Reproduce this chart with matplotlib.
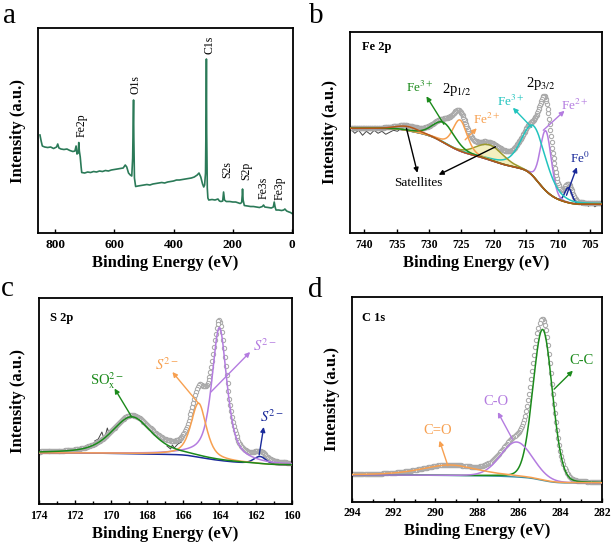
import math
import numpy as np
import matplotlib.pyplot as plt

plt.rcParams['font.family'] = ['Liberation Serif', 'DejaVu Serif']
plt.rcParams['mathtext.fontset'] = 'stix'

# ---------- (a) survey spectrum ----------
survey_be = [851, 847, 843, 835, 825, 815, 805, 795, 791, 787, 780, 770, 760, 750, 740,
             733, 729, 726, 722, 720, 718, 715, 712, 710, 700, 690, 680, 670, 660, 650,
             640, 630, 620, 610, 600, 590, 580, 570, 563, 558, 552, 546, 541, 538, 536,
             535, 534, 532, 528, 520, 510, 500, 490, 480, 470, 460, 450, 440, 430, 420,
             410, 400, 390, 380, 370, 360, 350, 340, 330, 320, 314, 308, 302, 298, 295,
             292, 290, 289, 288, 286, 284, 281, 270, 260, 250, 245, 240, 234, 231, 228,
             222, 210, 200, 190, 180, 175, 170, 168, 167, 165, 161, 150, 140, 130, 120,
             110, 100, 96, 92, 80, 70, 63, 60, 57, 54, 45, 35, 28, 24, 18, 10, 5, 0]
survey_int = [98, 92, 87, 86, 85.5, 86, 84.5, 86, 89, 85, 84, 83.5, 84, 82.5, 81.5,
              82, 87, 79, 80, 90.5, 82, 76, 66, 60.5, 60, 61, 60.5, 61.5, 61, 62,
              61.5, 62.5, 62, 63, 63.5, 64, 64.5, 65, 68, 66, 60, 58, 57, 75, 115,
              133, 95, 55, 46.5, 47, 47.5, 48, 48.5, 48, 49, 49.5, 50, 50.5, 50, 51,
              51.5, 52, 53, 53, 53.5, 54, 54.5, 55, 56, 58, 60, 56, 49, 46, 48,
              60, 120, 174, 100, 45, 35, 33, 33.5, 33, 34, 32, 31.5, 32, 41, 33,
              31.5, 31.5, 31, 31, 30, 29.5, 30.5, 38, 44, 33, 27.5, 27, 26.5, 26.5, 26,
              25.5, 26.5, 28, 26, 25.5, 25, 26, 31, 26, 23, 23, 22.5, 23, 24, 22, 21, 20.5, 19.5]
survey_labels = ['Fe2p', 'O1s', 'C1s', 'S2s', 'S2p', 'Fe3s', 'Fe3p']
survey_label_be = [709, 530, 278, 219, 155, 97, 43]
survey_label_int = [108, 148, 188, 63, 62, 45, 45]

# ---------- (b) Fe 2p fit ----------
fe_center = [733.3, 727.7, 725.2, 720.6, 713.7, 711.9, 708.4]
fe_height = [4, 20, 31, 15, 51, 60, 15]
fe_fwhm = [4.0, 4.0, 2.6, 5.0, 4.5, 2.0, 1.3]
fe_eta = [0.0, 0.2, 0.3, 0.0, 0.35, 0.1, 0.0]
fe_colors = ['#b5561a', '#1b8a1b', '#f7a050', '#9c9a2c', '#22c4be', '#b47ce0', '#1a2a9a']
fe_order = [6, 5, 4, 3, 2, 1, 0]
fe_bg_base = 29
fe_step_center = [708.5, 710.8, 713.2, 720.0, 727.5, 733.0]
fe_step_height = [3, 8, 24, 16, 20, 5]
fe_step_width = [1.0, 1.2, 1.3, 3.0, 2.2, 1.8]
fe_raw_left_be = [742.1, 741.5, 740.9, 740.3, 739.7, 739.1, 738.5, 737.9, 737.3, 736.7,
                  736.1, 735.5, 734.9, 734.3, 733.7]
fe_raw_left_int = [104, 100, 103, 98, 102, 99, 103, 100, 102, 99, 101, 103, 102, 105, 106]
fe_raw_right_be = [706.8, 706.3, 705.8, 705.3, 704.8, 704.3, 703.8, 703.3]
fe_raw_right_int = [32, 28, 30.5, 27, 30, 26.5, 29, 27.5]

# ---------- (c) S 2p fit ----------
s_center = [168.85, 165.15, 164.0, 161.75]
s_height = [37, 54, 133, 7.5]
s_fwhm = [2.6, 1.0, 1.0, 0.8]
s_eta = [0.5, 0.6, 0.7, 0.2]
s_colors = ['#1b8a1b', '#f7a050', '#b47ce0', '#1a2a9a']
s_order = [3, 2, 1, 0]
s_bg_base = 39
s_step_center = [161.7, 164.0, 165.2, 168.9]
s_step_height = [1.5, 6, 3, 1.5]
s_step_width = [0.5, 1.2, 0.6, 1.5]
s_raw_be = [170.9, 170.7, 170.5, 170.4, 170.3, 170.2, 170.1, 170.0, 169.8, 169.6]
s_raw_int = [63, 65, 72, 66, 69, 76, 70, 74, 73, 77]
s_raw2_be = [166.9, 166.7, 166.6, 166.5, 166.3, 166.1]
s_raw2_int = [58, 55, 59, 56, 60, 62]

# ---------- (d) C 1s fit ----------
c_center = [284.85, 286.1, 289.3]
c_height = [151, 35, 10.5]
c_fwhm = [1.1, 1.8, 3.2]
c_eta = [0.1, 0.1, 0.5]
c_colors = ['#1b8a1b', '#b47ce0', '#f7a050']
c_order = [0, 1, 2]
c_bg_base = 18.7
c_step_center = [284.85, 286.1, 289.3]
c_step_height = [5, 2, 1]
c_step_width = [0.5, 0.8, 1.5]

erf = np.vectorize(math.erf)


def pv(x, c, h, w, eta):
    u = (x - c) / w
    return h * (eta / (1 + 4 * u ** 2) + (1 - eta) * np.exp(-4 * np.log(2) * u ** 2))


def fit_panel(ax, lo, hi, dx, base, st_c, st_h, st_w, cen, hei, fw, eta, cols, order,
              bg_color=None, fills=()):
    x = np.arange(lo, hi + dx / 2, dx)
    bg = base + sum(h * 0.5 * (1 + erf((x - c) / (w * np.sqrt(2))))
                    for c, h, w in zip(st_c, st_h, st_w))
    comps = [pv(x, c, h, w, e) for c, h, w, e in zip(cen, hei, fw, eta)]
    env = bg + sum(comps)
    ax.plot(x, env, ls='none', marker='o', ms=3.1, mfc='white', mec='#a8a8a8',
            mew=0.75, zorder=2)
    if bg_color:
        ax.plot(x, bg, color=bg_color, lw=1.0, zorder=3)
    for i in order:
        if i in fills:
            ax.fill_between(x, bg, bg + comps[i], color='#f3efbf', lw=0, zorder=1.5)
        ax.plot(x, bg + comps[i], color=cols[i], lw=1.1, zorder=3)


def style(ax, xlim, ylim, ticks, size):
    ax.set_xlim(*xlim)
    ax.set_ylim(*ylim)
    ax.set_yticks([])
    ax.set_xticks(ticks)
    ax.set_xticklabels([str(t) for t in ticks], fontweight='bold', fontsize=size)
    ax.tick_params(axis='x', direction='in', length=3, width=1, pad=4)
    for sp in ax.spines.values():
        sp.set_linewidth(1.3)
    ax.set_xlabel('Binding Energy (eV)', fontweight='bold', fontsize=12, labelpad=3)
    ax.set_ylabel('Intensity (a.u.)', fontweight='bold', fontsize=12, labelpad=9)


def tag(ax, text, txy, tail, head, color, size):
    ax.annotate('', xy=head, xytext=tail,
                arrowprops=dict(arrowstyle='-|>', color=color, lw=1.0,
                                mutation_scale=7, shrinkA=0, shrinkB=0), zorder=4)
    ax.text(txy[0], txy[1], text, color=color, fontsize=size, ha='center', va='center')


fig = plt.figure(figsize=(6.14, 5.48), dpi=100)
ax_a = fig.add_axes([0.0619, 0.5748, 0.4153, 0.3741])
ax_b = fig.add_axes([0.5705, 0.5743, 0.4099, 0.3679])
ax_c = fig.add_axes([0.0629, 0.0803, 0.4122, 0.3759])
ax_d = fig.add_axes([0.5733, 0.0845, 0.4072, 0.3730])

# (a)
ax_a.plot(survey_be, survey_int, color='#2b7a58', lw=1.2)
for lab, xb, yi in zip(survey_labels, survey_label_be, survey_label_int):
    ax_a.text(xb, yi, lab, rotation=90, ha='center', va='center', fontsize=8.5)
style(ax_a, (857.6, -3.4), (0, 205), [800, 600, 400, 200, 0], 9.5)

# (b)
fit_panel(ax_b, 703.2, 742.2, 0.1, fe_bg_base, fe_step_center, fe_step_height,
          fe_step_width, fe_center, fe_height, fe_fwhm, fe_eta, fe_colors, fe_order,
          bg_color='#c9bb55', fills=(0, 3))
ax_b.plot(fe_raw_left_be, fe_raw_left_int, color='#444444', lw=0.7, zorder=1.8)
ax_b.plot(fe_raw_right_be, fe_raw_right_int, color='#444444', lw=0.7, zorder=1.8)
style(ax_b, (742.2, 703.2), (0, 201.6), [740, 735, 730, 725, 720, 715, 710, 705], 8.5)
ax_b.text(0.046, 0.924, 'Fe 2p', transform=ax_b.transAxes, fontweight='bold',
          fontsize=9, va='center')
tag(ax_b, 'Fe$^{3+}$', (731.4, 145.5), (727.7, 109), (730.4, 137), '#1b8a1b', 9.5)
ax_b.text(725.7, 143.5, '2p$_{1/2}$', fontsize=10.5, ha='center', va='center')
tag(ax_b, 'Fe$^{2+}$', (721.0, 113.5), (724.4, 93.5), (722.6, 105), '#f7a050', 9.5)
tag(ax_b, 'Fe$^{3+}$', (717.4, 131.5), (714.1, 106), (717.0, 125.5), '#22c4be', 9.5)
ax_b.text(712.6, 149.5, '2p$_{3/2}$', fontsize=10.5, ha='center', va='center')
tag(ax_b, 'Fe$^{2+}$', (707.4, 127.5), (712.3, 103), (709.0, 122.5), '#b47ce0', 9.5)
tag(ax_b, 'Fe$^{0}$', (706.6, 74.5), (708.7, 38), (707.1, 66), '#1a2a9a', 9.5)
ax_b.text(731.6, 50, 'Satellites', fontsize=9.5, ha='center', va='center')
ax_b.annotate('', xy=(731.8, 60.5), xytext=(733.5, 105),
              arrowprops=dict(arrowstyle='-|>', color='black', lw=1.0,
                              mutation_scale=7, shrinkA=0, shrinkB=0), zorder=4)
ax_b.annotate('', xy=(728.5, 58.5), xytext=(719.7, 86.5),
              arrowprops=dict(arrowstyle='-|>', color='black', lw=1.0,
                              mutation_scale=7, shrinkA=0, shrinkB=0), zorder=4)

# (c)
fit_panel(ax_c, 160, 174, 0.05, s_bg_base, s_step_center, s_step_height, s_step_width,
          s_center, s_height, s_fwhm, s_eta, s_colors, s_order)
ax_c.plot(s_raw_be, s_raw_int, color='#444444', lw=0.7, zorder=1.8)
ax_c.plot(s_raw2_be, s_raw2_int, color='#444444', lw=0.7, zorder=1.8)
style(ax_c, (174, 160), (0, 206), list(range(174, 159, -2)), 8.5)
ax_c.set_xticks(list(range(173, 160, -2)), minor=True)
ax_c.tick_params(axis='x', which='minor', direction='in', length=2, width=1)
ax_c.text(0.045, 0.903, 'S 2p', transform=ax_c.transAxes, fontweight='bold',
          fontsize=9, va='center')
tag(ax_c, 'SO$_\\mathrm{x}^{2-}$', (170.2, 123), (168.85, 87), (169.8, 115.5), '#1b8a1b', 10.5)
tag(ax_c, '$S^{2-}$', (166.9, 139), (165.15, 100.5), (166.6, 132), '#f7a050', 10.5)
tag(ax_c, '$S^{2-}$', (161.5, 158.5), (164.47, 112), (162.3, 152), '#b47ce0', 10.5)
tag(ax_c, '$S^{2-}$', (161.1, 87), (161.8, 49), (161.55, 77), '#1a2a9a', 10.5)

# (d)
fit_panel(ax_d, 282, 294, 0.05, c_bg_base, c_step_center, c_step_height, c_step_width,
          c_center, c_height, c_fwhm, c_eta, c_colors, c_order, bg_color='#3a8fa0')
style(ax_d, (294, 282), (0, 204.4), list(range(294, 281, -2)), 8.5)
ax_d.set_xticks(list(range(293, 282, -2)), minor=True)
ax_d.tick_params(axis='x', which='minor', direction='in', length=2, width=1)
ax_d.text(0.04, 0.9, 'C 1s', transform=ax_d.transAxes, fontweight='bold',
          fontsize=9, va='center')
tag(ax_d, 'C-C', (283.0, 141), (284.3, 112.5), (283.4, 131), '#1b8a1b', 10.5)
tag(ax_d, 'C-O', (287.1, 100), (286.3, 62.5), (287.0, 89.5), '#b47ce0', 10.5)
tag(ax_d, 'C=O', (289.9, 71), (289.4, 36), (289.8, 61), '#f7a050', 10.5)

# panel letters
fig.text(3 / 614, 1 - 23 / 548, 'a', fontsize=21)
fig.text(309 / 614, 1 - 23 / 548, 'b', fontsize=21)
fig.text(1 / 614, 1 - 296 / 548, 'c', fontsize=21)
fig.text(308 / 614, 1 - 297 / 548, 'd', fontsize=21)

fig.savefig('out.png', dpi=100)
